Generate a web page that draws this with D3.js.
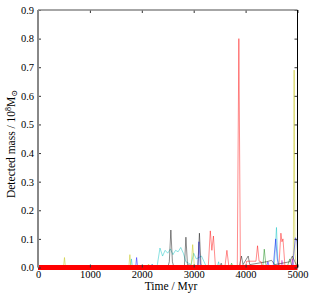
<!DOCTYPE html>
<html>
<head>
<meta charset="utf-8">
<script src="https://cdn.jsdelivr.net/npm/d3@7"></script>
<style>
  body { margin: 0; background: #fff; }
  text { font-family: "Liberation Serif", "DejaVu Serif", serif; }
</style>
</head>
<body>
<div id="visual-container"></div>
<script>
const width = 314
const height = 300
const margin = { top: 10, right: 16.5, bottom: 32.5, left: 38 }

const xTicks = [0, 1000, 2000, 3000, 4000, 5000]
const yTicks = [0, 0.1, 0.2, 0.3, 0.4, 0.5, 0.6, 0.7, 0.8, 0.9]

// each series: [time (Myr), mass (1e8 Msun)]
const seriesC = [[0,0],[1780,0],[1800,0.03],[1820,0],[2150,0],[2200,0.012],[2250,0],[2300,0.01],[2350,0.068],[2400,0.04],[2450,0.06],[2500,0.05],[2550,0.065],[2600,0.045],[2650,0.06],[2700,0.055],[2750,0.07],[2800,0.05],[2850,0.02],[2950,0.01],[3000,0.05],[3050,0.03],[3150,0.04],[3200,0.02],[3250,0],[3450,0],[3480,0.02],[3500,0],[4550,0],[4595,0.14],[4620,0.03],[4650,0],[5000,0]]
const seriesY = [[0,0],[490,0],[510,0.035],[530,0],[1750,0],[1770,0.045],[1790,0],[2100,0],[2130,0.012],[2160,0],[2950,0],[2980,0.08],[3010,0.01],[3050,0],[4880,0],[4920,0.05],[4935,0.69],[4950,0.05],[4980,0],[5000,0]]
const seriesB = [[0,0],[1880,0],[1900,0.035],[1920,0],[3080,0],[3100,0.09],[3130,0],[4400,0],[4430,0.02],[4460,0],[4530,0],[4580,0.1],[4610,0.03],[4640,0],[4900,0],[4960,0.104],[4990,0.09],[5000,0.06]]
const seriesG = [[0,0],[3700,0],[3730,0.015],[3760,0],[4330,0],[4360,0.064],[4390,0.01],[4450,0],[4800,0],[4850,0.03],[4900,0],[5000,0]]
const seriesM = [[0,0],[2180,0],[2200,0.01],[2230,0],[4680,0],[4700,0.025],[4730,0],[4880,0],[4900,0.03],[4940,0],[5000,0]]
const seriesK = [[0,0],[2500,0],[2530,0.02],[2560,0.131],[2590,0.02],[2620,0],[2820,0],[2850,0.106],[2880,0.01],[3080,0],[3110,0.12],[3140,0.01],[3200,0],[3500,0],[3530,0.015],[3560,0],[3880,0.005],[3920,0.04],[3950,0.01],[4050,0.04],[4080,0.01],[4400,0.02],[4500,0.025],[4560,0.01],[4850,0.02],[4900,0.04],[4950,0.02],[5000,0]]
const seriesR = [[0,0],[3280,0],[3320,0.128],[3350,0.06],[3380,0.11],[3420,0],[3600,0],[3640,0.06],[3680,0],[3840,0],[3870,0.80],[3900,0],[4000,0],[4020,0.022],[4200,0.022],[4230,0.076],[4260,0.022],[4300,0.02],[4320,0],[4640,0],[4680,0.12],[4700,0.09],[4720,0.1],[4760,0],[5000,0]]
const baseline = [[0,0],[5000,0]]

const series = [
  { data: seriesC, color: "#00bfbf" },
  { data: seriesY, color: "#bfbf00" },
  { data: seriesB, color: "#0000ff" },
  { data: seriesG, color: "#008000" },
  { data: seriesM, color: "#bf00bf" },
  { data: seriesK, color: "#000000" },
  { data: seriesR, color: "#ff0000" }
]

const svg = d3.select('#visual-container')
  .append('svg')
  .attr('width', width)
  .attr('height', height)

const xScale = d3.scaleLinear()
  .domain([0, 5000])
  .range([margin.left, width - margin.right])
const yScale = d3.scaleLinear()
  .domain([0, 0.9])
  .range([height - margin.bottom, margin.top])

const line = d3.line()
  .x(d => xScale(d[0]))
  .y(d => yScale(d[1]))

svg.selectAll('path.series')
  .data(series)
  .enter()
  .append('path')
  .attr('class', 'series')
  .attr('d', d => line(d.data))
  .attr('fill', 'none')
  .attr('stroke', d => d.color)
  .attr('stroke-opacity', 0.45)
  .attr('stroke-width', 1)

// thick red floor
svg.append('path')
  .attr('d', line(baseline))
  .attr('fill', 'none')
  .attr('stroke', '#ff0000')
  .attr('stroke-width', 5)

// axes, ticks inward on all sides
const xAxisB = d3.axisBottom(xScale).tickValues(xTicks).tickSize(-3).tickPadding(3).tickFormat(d3.format('d'))
const xAxisT = d3.axisTop(xScale).tickValues(xTicks).tickSize(-3).tickFormat('')
const yAxisL = d3.axisLeft(yScale).tickValues(yTicks).tickSize(-3).tickPadding(4).tickFormat(d3.format('.1f'))
const yAxisR = d3.axisRight(yScale).tickValues(yTicks).tickSize(-3).tickFormat('')

svg.append('g').attr('transform', `translate(0,${height - margin.bottom})`).call(xAxisB)
svg.append('g').attr('transform', `translate(0,${margin.top})`).call(xAxisT)
svg.append('g').attr('transform', `translate(${margin.left},0)`).call(yAxisL)
svg.append('g').attr('transform', `translate(${width - margin.right},0)`).call(yAxisR)

svg.selectAll('.domain').remove()
svg.selectAll('.tick line').attr('stroke', '#333')
svg.selectAll('.tick text').attr('font-size', 10.5).attr('fill', '#000')
  .style('font-family', '"Liberation Serif", serif')

// spines
svg.append('line')
  .attr('x1', margin.left).attr('x2', margin.left)
  .attr('y1', margin.top).attr('y2', height - margin.bottom)
  .attr('stroke', '#888').attr('stroke-width', 2)
svg.append('line')
  .attr('x1', margin.left).attr('x2', width - margin.right)
  .attr('y1', margin.top).attr('y2', margin.top)
  .attr('stroke', '#888').attr('stroke-width', 1.5)
svg.append('line')
  .attr('x1', width - margin.right).attr('x2', width - margin.right)
  .attr('y1', margin.top).attr('y2', height - margin.bottom)
  .attr('stroke', '#000').attr('stroke-width', 1)

// labels
svg.append('text')
  .attr('x', 171)
  .attr('y', 290)
  .attr('text-anchor', 'middle')
  .attr('font-size', 11.5)
  .text('Time / Myr')

const yl = svg.append('text')
  .attr('text-anchor', 'middle')
  .attr('font-size', 11.5)
  .attr('transform', `translate(15,144) rotate(-90)`)
yl.append('tspan').text('Detected mass / 10')
yl.append('tspan').attr('font-size', 8).attr('dy', -4.5).text('8')
yl.append('tspan').attr('dy', 4.5).text('M')
yl.append('tspan').attr('font-size', 8).attr('dy', 2).text('⊙')
</script>
</body>
</html>
